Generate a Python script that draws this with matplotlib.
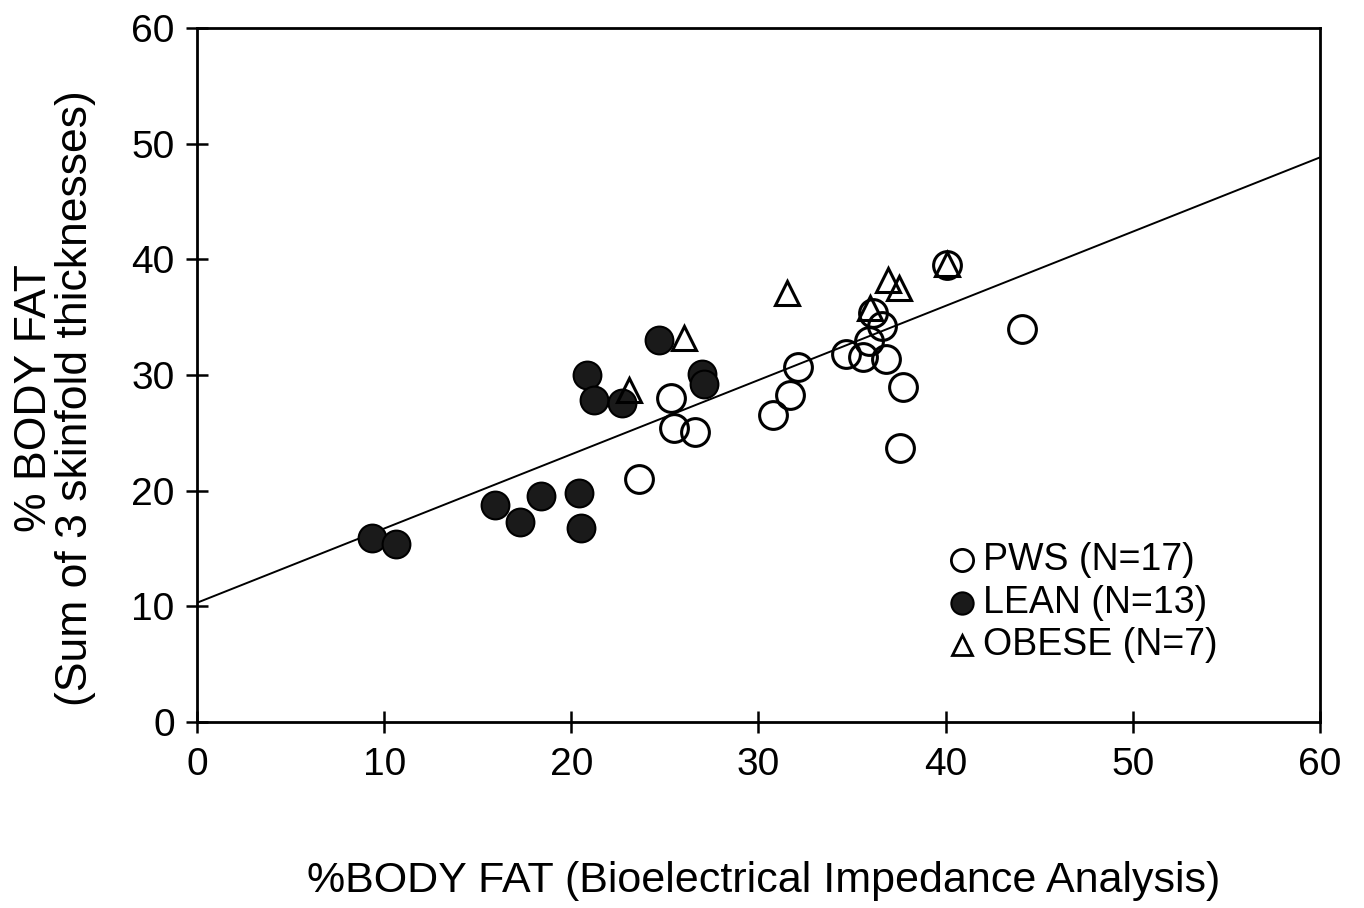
import matplotlib
matplotlib.use("Agg")
import matplotlib.pyplot as plt
import numpy as np

plt.rcParams['font.family'] = ['Liberation Sans', 'DejaVu Sans']

# PWS (open circles)
pws_x = [23.6, 25.35, 25.5, 26.6, 30.8, 31.7, 32.1, 34.7, 35.6, 35.9, 36.8,
         36.6, 36.1, 37.7, 37.55, 44.1, 40.1]
pws_y = [21.0, 28.0, 25.4, 25.1, 26.5, 28.3, 30.7, 31.8, 31.6, 32.9, 31.4,
         34.2, 35.4, 29.0, 23.65, 34.0, 39.5]
# LEAN (filled circles)
lean_x = [9.35, 10.65, 15.9, 17.25, 18.4, 20.4, 20.5, 20.85, 21.2, 22.7, 24.7, 27.0, 27.1]
lean_y = [15.9, 15.4, 18.75, 17.3, 19.5, 19.8, 16.8, 30.0, 27.8, 27.6, 33.0, 30.1, 29.2]
# OBESE (open triangles)
obese_x = [23.1, 26.0, 31.5, 36.9, 37.5, 35.95, 40.1]
obese_y = [28.7, 33.2, 37.05, 38.2, 37.5, 35.8, 39.6]

# regression line
line_intercept = 10.3
line_slope = 0.642

xticks = [0, 10, 20, 30, 40, 50, 60]
yticks = [0, 10, 20, 30, 40, 50, 60]

fig = plt.figure(figsize=(13.64, 9.08), dpi=100)
ax = fig.add_axes([0.1444, 0.205, 0.8233, 0.764])

xl = np.array([0, 60])
ax.plot(xl, line_intercept + line_slope * xl, color='black', lw=1.4, zorder=1)

ms = 20
ax.plot(pws_x, pws_y, 'o', ms=ms, mfc='none', mec='black', mew=2.2, zorder=3)
ax.plot(lean_x, lean_y, 'o', ms=ms, mfc='#1a1a1a', mec='black', mew=1.5, zorder=2)
ax.plot(obese_x, obese_y, '^', ms=17, mfc='none', mec='black', mew=2.2, zorder=3)

ax.set_xlim(0, 60)
ax.set_ylim(0, 60)
ax.set_xticks(xticks)
ax.set_yticks(yticks)
ax.tick_params(direction='inout', length=16, width=1.8, labelsize=28, pad=8)
ax.tick_params(axis='x', pad=10)
for s in ax.spines.values():
    s.set_linewidth(2)

fig.text(0.56, 0.008, '%BODY FAT (Bioelectrical Impedance Analysis)', ha='center',
         va='bottom', fontsize=31)
fig.text(0.040, 0.562, '% BODY FAT\n(Sum of 3 skinfold thicknesses)', ha='center',
         va='center', rotation=90, fontsize=32, linespacing=1.0)

# legend
ax.plot([40.9], [14.0], 'o', ms=16, mfc='none', mec='black', mew=2, clip_on=False)
ax.plot([40.9], [10.3], 'o', ms=16, mfc='#1a1a1a', mec='black', mew=1.5, clip_on=False)
ax.plot([40.9], [6.65], '^', ms=15, mfc='none', mec='black', mew=2, clip_on=False)
ax.text(42.0, 14.0, 'PWS (N=17)', va='center', fontsize=27)
ax.text(42.0, 10.3, 'LEAN (N=13)', va='center', fontsize=27)
ax.text(42.0, 6.65, 'OBESE (N=7)', va='center', fontsize=27)

fig.savefig('out.png', dpi=100)
